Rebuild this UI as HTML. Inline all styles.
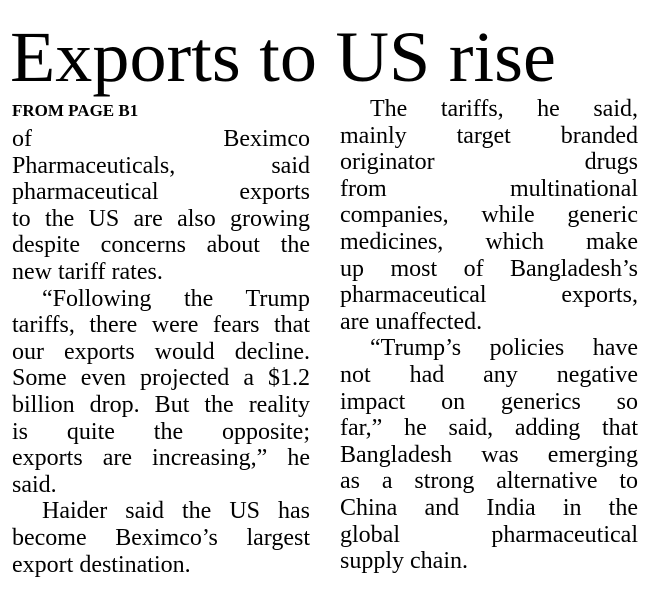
<!DOCTYPE html>
<html><head><meta charset="utf-8"><style>
body{margin:0;background:#fff;}
#p{position:relative;width:649px;height:594px;overflow:hidden;background:#fff;color:#000;font-family:"Liberation Serif",serif;}
h1{position:absolute;left:10px;top:12px;margin:0;font-weight:normal;font-size:72px;line-height:90px;letter-spacing:0px;white-space:nowrap;transform:scaleX(1.03);transform-origin:left top;}
.k{position:absolute;left:12px;top:100px;font-weight:bold;font-size:17px;line-height:22px;}
.l{position:absolute;font-size:24px;line-height:27px;height:27px;white-space:nowrap;text-align:justify;text-align-last:justify;}
.e{text-align:left;text-align-last:left;}
</style></head><body><div id="p">
<h1>Exports to US rise</h1>
<div class="k">FROM PAGE B1</div>
<div id="c1"></div><div id="c2"></div>
</div>
<script>
var c1=[["of Beximco",0,1],["Pharmaceuticals, said",0,1],["pharmaceutical exports",0,1],["to the US are also growing",0,1],["despite concerns about the",0,1],["new tariff rates.",0,0],["“Following the Trump",30,1],["tariffs, there were fears that",0,1],["our exports would decline.",0,1],["Some even projected a $1.2",0,1],["billion drop. But the reality",0,1],["is quite the opposite;",0,1],["exports are increasing,” he",0,1],["said.",0,0],["Haider said the US has",30,1],["become Beximco’s largest",0,1],["export destination.",0,0]];
var c2=[["The tariffs, he said,",30,1],["mainly target branded",0,1],["originator drugs",0,1],["from multinational",0,1],["companies, while generic",0,1],["medicines, which make",0,1],["up most of Bangladesh’s",0,1],["pharmaceutical exports,",0,1],["are unaffected.",0,0],["“Trump’s policies have",30,1],["not had any negative",0,1],["impact on generics so",0,1],["far,” he said, adding that",0,1],["Bangladesh was emerging",0,1],["as a strong alternative to",0,1],["China and India in the",0,1],["global pharmaceutical",0,1],["supply chain.",0,0]];
function put(arr,x0,w,y0,id){var h="";arr.forEach(function(a,i){var y=y0+i*26.6;h+='<div class="l'+(a[2]?'':' e')+'" style="left:'+(x0+a[1])+'px;top:'+y+'px;width:'+(w-a[1])+'px">'+a[0]+'</div>';});document.getElementById(id).outerHTML=h;}
put(c1,12,298,126,"c1");
put(c2,340,298,96,"c2");
</script>
</body></html>
